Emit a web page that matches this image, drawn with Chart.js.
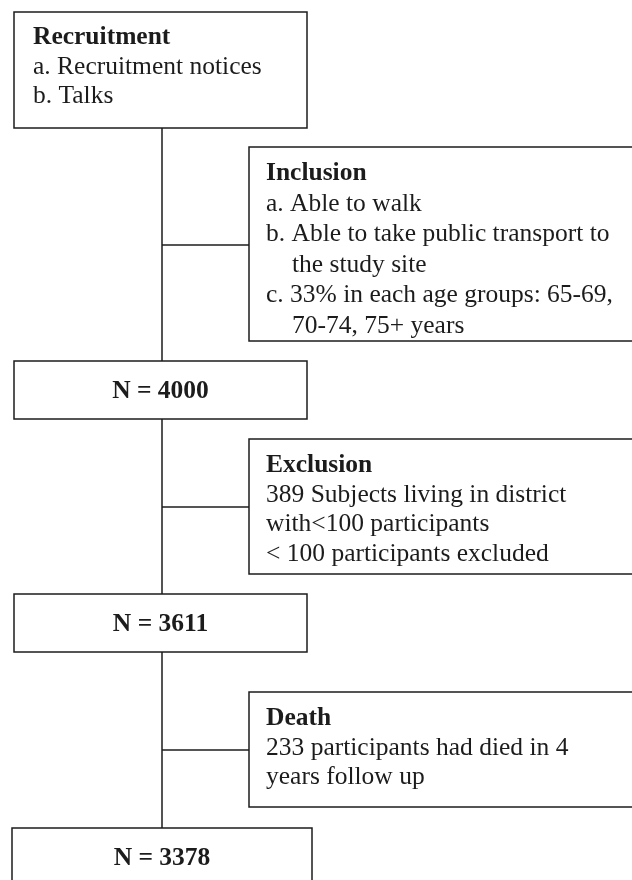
<!DOCTYPE html>
<html>
<head>
<meta charset="utf-8">
<script src="https://cdn.jsdelivr.net/npm/chart.js@4.4.1/dist/chart.umd.min.js"></script>
<style>
  html, body { margin: 0; padding: 0; background: #fff; }
  #wrap { width: 632px; height: 880px; position: relative; }
</style>
</head>
<body>
<div id="wrap"><canvas id="flow"></canvas></div>
<script>
// Flow of participants (values from the figure)
var counts = [4000, 3611, 3378];
var stepTitles = ['Recruitment', 'Inclusion', 'Exclusion', 'Death'];
var recruitmentItems = ['a. Recruitment notices', 'b. Talks'];
var inclusionItems = [
	'a. Able to walk',
	'b. Able to take public transport to',
	'the study site',
	'c. 33% in each age groups: 65-69,',
	'70-74, 75+ years'
];
var inclusionIndent = [false, false, true, false, true];
var exclusionItems = ['389 Subjects living in district', 'with<100 participants', '< 100 participants excluded'];
var deathItems = ['233 participants had died in 4', 'years follow up'];

// Layout in scale units (0..632 across, 0..880 down)
var spineX = 162;
var mainBoxes = [
	{ x0: 14, x1: 307, y0: 12, y1: 128 },
	{ x0: 14, x1: 307, y0: 361, y1: 419 },
	{ x0: 14, x1: 307, y0: 594, y1: 652 },
	{ x0: 12, x1: 312, y0: 828, y1: 900 }
];
var sideBoxes = [
	{ x0: 249, x1: 660, y0: 147, y1: 341, hook: 245, step: 30.5 },
	{ x0: 249, x1: 660, y0: 439, y1: 574, hook: 507, step: 29.7 },
	{ x0: 249, x1: 660, y0: 692, y1: 807, hook: 750, step: 29.6 }
];
var sideItems = [inclusionItems, exclusionItems, deathItems];

var INK = '#1c1c1c';
var SERIF = '"Liberation Serif", "Times New Roman", serif';
var FS = 25.5;

// connector lines: spine pieces between main boxes and branches to side boxes
var datasets = [];
for (var i = 0; i < mainBoxes.length - 1; i++) {
	datasets.push({ data: [{ x: spineX, y: mainBoxes[i].y1 }, { x: spineX, y: mainBoxes[i + 1].y0 }] });
}
sideBoxes.forEach(function (b) {
	datasets.push({ data: [{ x: spineX, y: b.hook }, { x: b.x0, y: b.hook }] });
});
datasets.forEach(function (d) {
	d.showLine = true;
	d.borderColor = INK;
	d.borderWidth = 1.5;
	d.pointRadius = 0;
	d.fill = false;
});

var boxPlugin = {
	id: 'flowBoxes',
	afterDatasetsDraw: function (chart) {
		var ctx = chart.ctx;
		var sx = chart.scales.x, sy = chart.scales.y;
		function px(v) { return sx.getPixelForValue(v); }
		function py(v) { return sy.getPixelForValue(v); }

		function box(b) {
			var l = px(b.x0), r = px(b.x1), t = py(b.y0), btm = py(b.y1);
			ctx.fillStyle = '#fff';
			ctx.fillRect(l, t, r - l, btm - t);
			ctx.strokeRect(l, t, r - l, btm - t);
		}

		ctx.save();
		ctx.lineWidth = 1.5;
		ctx.strokeStyle = INK;
		ctx.fillStyle = INK;
		ctx.textBaseline = 'alphabetic';

		mainBoxes.forEach(box);
		sideBoxes.forEach(box);

		// recruitment box
		var rb = mainBoxes[0];
		ctx.fillStyle = INK;
		ctx.textAlign = 'left';
		ctx.font = 'bold ' + FS + 'px ' + SERIF;
		ctx.fillText(stepTitles[0], px(rb.x0 + 19), py(rb.y0 + 32));
		ctx.font = FS + 'px ' + SERIF;
		recruitmentItems.forEach(function (t, k) {
			ctx.fillText(t, px(rb.x0 + 19), py(rb.y0 + 32 + (k + 1) * 29.6));
		});

		// N boxes
		ctx.textAlign = 'center';
		ctx.font = 'bold ' + FS + 'px ' + SERIF;
		counts.forEach(function (n, k) {
			var b = mainBoxes[k + 1];
			ctx.fillText('N = ' + n, px((b.x0 + b.x1) / 2), py(b.y0 + 37));
		});

		// side boxes
		ctx.textAlign = 'left';
		sideBoxes.forEach(function (b, k) {
			var left = b.x0 + 17;
			ctx.font = 'bold ' + FS + 'px ' + SERIF;
			ctx.fillText(stepTitles[k + 1], px(left), py(b.y0 + 33));
			ctx.font = FS + 'px ' + SERIF;
			sideItems[k].forEach(function (t, j) {
				var ind = (k === 0 && inclusionIndent[j]) ? 26 : 0;
				ctx.fillText(t, px(left + ind), py(b.y0 + 33 + (j + 1) * b.step));
			});
		});
		ctx.restore();
	}
};

new Chart(document.getElementById('flow'), {
	type: 'scatter',
	data: { datasets: datasets },
	options: {
		responsive: true,
		maintainAspectRatio: false,
		animation: false,
		devicePixelRatio: 1,
		layout: { padding: 0 },
		plugins: { legend: { display: false }, tooltip: { enabled: false } },
		scales: {
			x: { type: 'linear', min: 0, max: 632, display: false },
			y: { type: 'linear', min: 0, max: 880, reverse: true, display: false }
		}
	},
	plugins: [boxPlugin]
});
</script>
</body>
</html>
